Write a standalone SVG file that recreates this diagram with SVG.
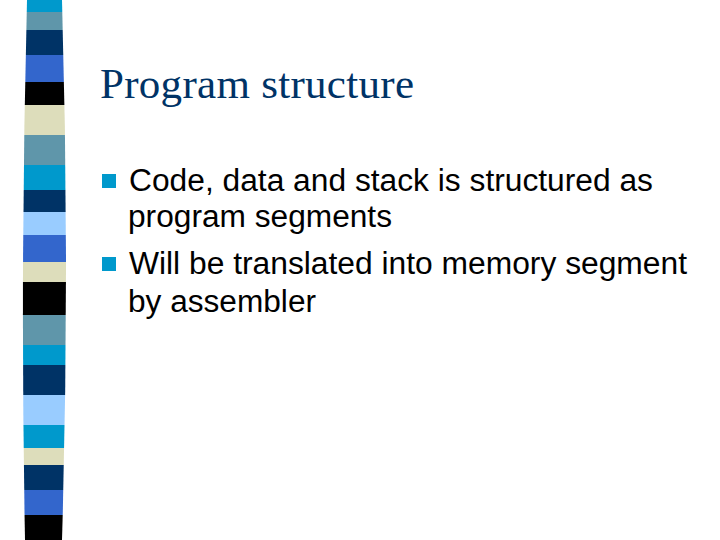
<svg xmlns="http://www.w3.org/2000/svg" width="720" height="540" viewBox="0 0 720 540">
<defs>
<style>
.b{font-family:"Liberation Sans",Arial,sans-serif;font-size:31px;fill:#000}
.sq{fill:#0099cc}
</style>
<clipPath id="c"><path d="M27,0 L62,0 Q70,270 62,540 L25,540 Q20,270 27,0 Z"/></clipPath>
</defs>
<rect width="720" height="540" fill="#fff"/>
<g id="stripes" clip-path="url(#c)">
<rect x="0" y="0" width="80" height="12" fill="#0099cc"/>
<rect x="0" y="12" width="80" height="18" fill="#5f96aa"/>
<rect x="0" y="30" width="80" height="25" fill="#003366"/>
<rect x="0" y="55" width="80" height="27" fill="#3366cc"/>
<rect x="0" y="82" width="80" height="23" fill="#000"/>
<rect x="0" y="105" width="80" height="30" fill="#ddddbb"/>
<rect x="0" y="135" width="80" height="30" fill="#5f96aa"/>
<rect x="0" y="165" width="80" height="25" fill="#0099cc"/>
<rect x="0" y="190" width="80" height="22" fill="#003366"/>
<rect x="0" y="212" width="80" height="23" fill="#99ccff"/>
<rect x="0" y="235" width="80" height="27" fill="#3366cc"/>
<rect x="0" y="262" width="80" height="20" fill="#ddddbb"/>
<rect x="0" y="282" width="80" height="33" fill="#000"/>
<rect x="0" y="315" width="80" height="30" fill="#5f96aa"/>
<rect x="0" y="345" width="80" height="20" fill="#0099cc"/>
<rect x="0" y="365" width="80" height="30" fill="#003366"/>
<rect x="0" y="395" width="80" height="30" fill="#99ccff"/>
<rect x="0" y="425" width="80" height="23" fill="#0099cc"/>
<rect x="0" y="448" width="80" height="17" fill="#ddddbb"/>
<rect x="0" y="465" width="80" height="25" fill="#003366"/>
<rect x="0" y="490" width="80" height="25" fill="#3366cc"/>
<rect x="0" y="515" width="80" height="25" fill="#000"/>
</g>
<g id="title"><text x="100" y="98" font-family="Liberation Serif,'Times New Roman',serif" font-size="43" fill="#003366" textLength="314">Program structure</text></g>
<g id="bullet1">
<rect class="sq" x="102" y="174" width="14" height="14"/>
<text class="b" x="129" y="191" textLength="524" lengthAdjust="spacingAndGlyphs">Code, data and stack is structured as</text>
<text class="b" x="128" y="227" textLength="264" lengthAdjust="spacingAndGlyphs">program segments</text>
</g>
<g id="bullet2">
<rect class="sq" x="102" y="257" width="14" height="14"/>
<text class="b" x="129" y="274" textLength="558" lengthAdjust="spacingAndGlyphs">Will be translated into memory segment</text>
<text class="b" x="128" y="312" textLength="188" lengthAdjust="spacingAndGlyphs">by assembler</text>
</g>
</svg>
